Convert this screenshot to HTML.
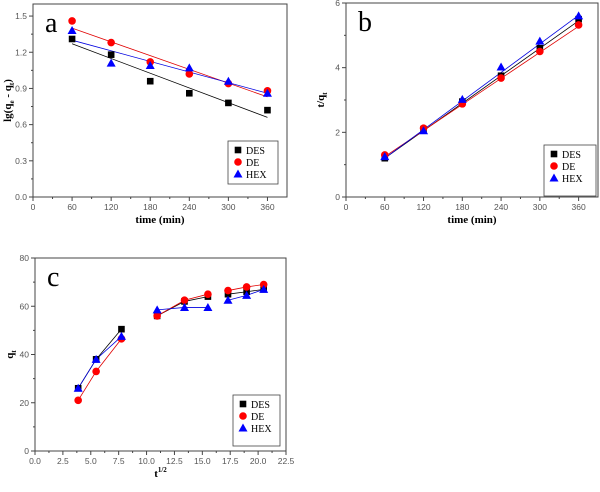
<!DOCTYPE html>
<html><head><meta charset="utf-8"><style>
body{margin:0;background:#fff;width:600px;height:487px;overflow:hidden}
svg{font-family:"Liberation Serif",serif}
</style></head><body>
<svg id="s" width="600" height="487"></svg>
<script>
const xA=[60,120,180,240,300,360];
const aDES=[1.31,1.18,0.96,0.86,0.78,0.72];
const aDE=[1.46,1.28,1.12,1.02,0.94,0.88];
const aHEX=[1.38,1.11,1.09,1.07,0.96,0.86];
const aFit={DES:[1.27,0.66],DE:[1.40,0.83],HEX:[1.30,0.86]};
const bDES=[1.2,2.1,2.95,3.75,4.6,5.5];
const bDE=[1.3,2.13,2.88,3.68,4.5,5.32];
const bHEX=[1.25,2.05,3.02,4.02,4.82,5.6];
const bFit={DES:[1.2,5.45],DE:[1.25,5.28],HEX:[1.2,5.62]};
const xC=[3.87,5.48,7.75,10.95,13.4,15.5,17.3,18.97,20.5];
const cDES=[26,38,50.5,56,62,64,65,66,67];
const cDE=[21,33,46.5,56,62.5,65,66.5,68,69];
const cHEX=[26,38,47.5,58.5,59.5,59.5,62.5,64.5,67];
const xTicksAB=[0,60,120,180,240,300,360];
const yTicksA=[0,0.3,0.6,0.9,1.2,1.5];
const yTicksB=[0,2,4,6];
const xTicksC=[0,2.5,5,7.5,10,12.5,15,17.5,20,22.5];
const yTicksC=[0,20,40,60,80];
const NS="http://www.w3.org/2000/svg";
const S=document.getElementById('s');
function el(t,a,p){const e=document.createElementNS(NS,t);for(const k in a)e.setAttribute(k,a[k]);(p||S).appendChild(e);return e;}
const COL={DES:'#000',DE:'#e00000',HEX:'#0000e0'};
function marker(g,type,x,y){
  let m;
  if(type==='DES')m=el('rect',{x:x-3.3,y:y-3.3,width:6.6,height:6.6,fill:'#000'},g);
  else if(type==='DE')m=el('circle',{cx:x,cy:y,r:3.8,fill:'#f00'},g);
  else m=el('polygon',{points:`${x},${y-4.5} ${x-4.5},${y+3.5} ${x+4.5},${y+3.5}`,fill:'#00f'},g);
  
  
}
function panel(cfg){
  const g=el('g',{});
  
  
  const X=v=>cfg.L+(v-cfg.x0)/(cfg.x1-cfg.x0)*(cfg.R-cfg.L);
  const Y=v=>cfg.B-(v-cfg.y0)/(cfg.y1-cfg.y0)*(cfg.B-cfg.T);
  const box=el('rect',{x:cfg.L,y:cfg.T,width:cfg.R-cfg.L,height:cfg.B-cfg.T,fill:'none',stroke:'#444','stroke-width':1},g);
  
  cfg.xt.forEach((v,i)=>{
    el('line',{x1:X(v),x2:X(v),y1:cfg.B,y2:cfg.B+4,stroke:'#444'},g);
    if(i<cfg.xt.length-1){const m=(v+cfg.xt[i+1])/2;el('line',{x1:X(m),x2:X(m),y1:cfg.B,y2:cfg.B+2,stroke:'#444'},g);}
    const t=el('text',{x:X(v),y:cfg.B+13,'font-size':8.5,'text-anchor':'middle',fill:'#555','font-family':'Liberation Sans'},g);t.textContent=cfg.xfmt(v);
    
  });
  cfg.yt.forEach((v,i)=>{
    el('line',{x1:cfg.L-4,x2:cfg.L,y1:Y(v),y2:Y(v),stroke:'#444'},g);
    if(i<cfg.yt.length-1){const m=(v+cfg.yt[i+1])/2;el('line',{x1:cfg.L-2,x2:cfg.L,y1:Y(m),y2:Y(m),stroke:'#444'},g);}
    const t=el('text',{x:cfg.L-6,y:Y(v)+3,'font-size':8.5,'text-anchor':'end',fill:'#555','font-family':'Liberation Sans'},g);t.textContent=cfg.yfmt(v);
    
  });
  const xl=el('text',{x:(cfg.L+cfg.R)/2,y:cfg.B+26,'font-size':11,'font-weight':'bold','text-anchor':'middle'},g);
  xl.innerHTML=cfg.xlab;
  const yl=el('text',{transform:`translate(${cfg.L-22},${(cfg.T+cfg.B)/2}) rotate(-90)`,'font-size':11,'font-weight':'bold','text-anchor':'middle'},g);
  yl.innerHTML=cfg.ylab;
  const lb=el('text',{x:cfg.L+12,y:cfg.T+28,'font-size':28},g);lb.textContent=cfg.label;
  
  ['DES','DE','HEX'].forEach(k=>{
    const ys=cfg.series[k];
    if(cfg.fit){const f=cfg.fit[k];const ln=el('line',{x1:X(cfg.xs[0]),y1:Y(f[0]),x2:X(cfg.xs[cfg.xs.length-1]),y2:Y(f[1]),stroke:COL[k],'stroke-width':0.8},g);
      }
    else{cfg.segs.forEach(s=>{const pts=s.map(i=>X(cfg.xs[i])+','+Y(ys[i])).join(' ');
      const pl=el('polyline',{points:pts,fill:'none',stroke:COL[k],'stroke-width':0.8},g);
      });}
  });
  ['DES','DE','HEX'].forEach(k=>cfg.series[k].forEach((v,i)=>marker(g,k,X(cfg.xs[i]),Y(v))));
  const lg=el('g',{},g);
  const [lx,ly,lw,lh]=cfg.leg;
  el('rect',{x:lx,y:ly,width:lw,height:lh,fill:'#fff',stroke:'#444','stroke-width':0.8},lg);
  ['DES','DE','HEX'].forEach((k,i)=>{const yy=ly+9+i*12;marker(lg,k,lx+10,yy);
    const t=el('text',{x:lx+18,y:yy+4,'font-size':10},lg);t.textContent=k;
    });
}
panel({label:'a',L:33,R:287,T:4,B:197,x0:0,x1:390,y0:0,y1:1.6,xt:xTicksAB,yt:yTicksA,xfmt:v=>v,yfmt:v=>v.toFixed(1),
  xlab:'time (min)',ylab:'lg(q<tspan font-size="7" dy="3">e</tspan><tspan dy="-3"> - q</tspan><tspan font-size="7" dy="3">t</tspan><tspan dy="-3">)</tspan>',
  xs:xA,series:{DES:aDES,DE:aDE,HEX:aHEX},fit:aFit,leg:[228,141,50,43]});
panel({label:'b',L:346,R:598,T:3,B:197,x0:0,x1:390,y0:0,y1:6,xt:xTicksAB,yt:yTicksB,xfmt:v=>v,yfmt:v=>v,
  xlab:'time (min)',ylab:'t/q<tspan font-size="7" dy="3">t</tspan>',
  xs:xA,series:{DES:bDES,DE:bDE,HEX:bHEX},fit:bFit,leg:[544,145,52,51]});
panel({label:'c',L:35,R:286,T:258,B:451,x0:0,x1:22.5,y0:0,y1:80,xt:xTicksC,yt:yTicksC,xfmt:v=>v.toFixed(1),yfmt:v=>v,
  xlab:'t<tspan font-size="7" dy="-5">1/2</tspan>',ylab:'q<tspan font-size="7" dy="3">t</tspan>',
  xs:xC,series:{DES:cDES,DE:cDE,HEX:cHEX},segs:[[0,1,2],[3,4,5],[6,7,8]],leg:[233,395,47,51]});
</script>
</body></html>
